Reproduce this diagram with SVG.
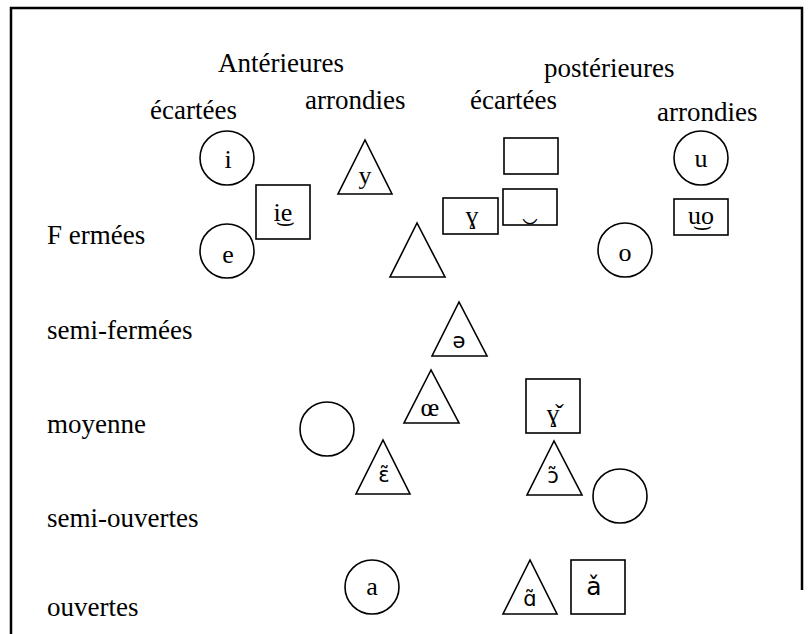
<svg xmlns="http://www.w3.org/2000/svg" width="811" height="634" viewBox="0 0 811 634">
<style>
.bg{fill:#fff}
.frame{fill:none;stroke:#000;stroke-width:2.5}
.s{fill:#fff;stroke:#000;stroke-width:1.6}
.lab{font-size:27px;fill:#000}
.t{font-size:26px;fill:#000;text-anchor:middle}
.ts{font-size:21px;fill:#000;text-anchor:middle}
.big{font-size:25px}
</style>
<rect class="bg" x="0" y="0" width="811" height="634"/>
<path class="frame" d="M11,634 V8 H802 V590"/>
<g id="headers" font-family="Liberation Serif, Times New Roman, serif">
<text class="lab" x="218" y="72">Antérieures</text>
<text class="lab" x="544" y="77">postérieures</text>
<text class="lab" x="150" y="119">écartées</text>
<text class="lab" x="305" y="109">arrondies</text>
<text class="lab" x="470" y="109">écartées</text>
<text class="lab" x="657" y="121">arrondies</text>
</g>
<g id="rows" font-family="Liberation Serif, Times New Roman, serif">
<text class="lab" x="47" y="244">F ermées</text>
<text class="lab" x="47" y="339">semi-fermées</text>
<text class="lab" x="47" y="433">moyenne</text>
<text class="lab" x="47" y="527">semi-ouvertes</text>
<text class="lab" x="47" y="616">ouvertes</text>
</g>
<g font-family="Liberation Serif, Times New Roman, serif">
<g id="n-i"><circle class="s" cx="227" cy="158" r="27"/><text class="t" x="228" y="168">i</text></g>
<g id="n-e"><circle class="s" cx="227" cy="251" r="27"/><text class="t" x="228" y="263">e</text></g>
<g id="n-ie"><rect class="s" x="256" y="185" width="54" height="54"/><text class="t" x="283" y="221">i͜e</text></g>
<g id="n-y"><polygon class="s" points="365,140 338,194 392,194"/><text class="t" x="365" y="184">y</text></g>
<g id="n-tri-empty"><polygon class="s" points="417,223 390,277 445,277"/></g>
<g id="n-rect-empty"><rect class="s" x="504" y="138" width="54" height="36"/></g>
<g id="n-undertie"><rect class="s" x="503" y="189" width="54" height="36"/><text class="t" x="530" y="218">‿</text></g>
<g id="n-gamma"><rect class="s" x="443" y="198" width="55" height="36"/><text class="t" x="472" y="224">ɣ</text></g>
<g id="n-u"><circle class="s" cx="701" cy="158" r="27"/><text class="t" x="701" y="167">u</text></g>
<g id="n-uo"><rect class="s" x="674" y="199" width="54" height="36"/><text class="t" x="701" y="224">u͜o</text></g>
<g id="n-o"><circle class="s" cx="625" cy="250" r="27"/><text class="t" x="625" y="261">o</text></g>
<g id="n-oe"><polygon class="s" points="431,370 404,423 459,423"/><text class="t" x="430" y="416">œ</text></g>
<g id="n-gamma-caron"><rect class="s" x="526" y="379" width="54" height="54"/><text class="t" x="553" y="422">ɣ̌</text></g>
<g id="n-circle-empty1"><circle class="s" cx="327" cy="429" r="27"/></g>
<g id="n-circle-empty2"><circle class="s" cx="620" cy="496" r="27"/></g>
<g id="n-a"><circle class="s" cx="372" cy="587" r="27"/><text class="t" x="372" y="595">a</text></g>
</g>
<g font-family="DejaVu Sans, sans-serif">
<g id="n-schwa"><polygon class="s" points="459,302 432,356 487,356"/><text class="ts" x="459" y="348">ə</text></g>
<g id="n-eps-nasal"><polygon class="s" points="383,440 356,494 410,494"/><text class="ts" x="384" y="482">ɛ̃</text></g>
<g id="n-open-o-nasal"><polygon class="s" points="554,441 527,495 582,495"/><text class="ts" x="553" y="483">ɔ̃</text></g>
<g id="n-alpha-nasal"><polygon class="s" points="530,560 503,614 557,614"/><text class="ts" x="530" y="606">ɑ̃</text></g>
<g id="n-a-caron"><rect class="s" x="571" y="560" width="54" height="54"/><text class="ts big" x="594" y="595">ǎ</text></g>
</g>
<g id="connectors"></g>
</svg>
